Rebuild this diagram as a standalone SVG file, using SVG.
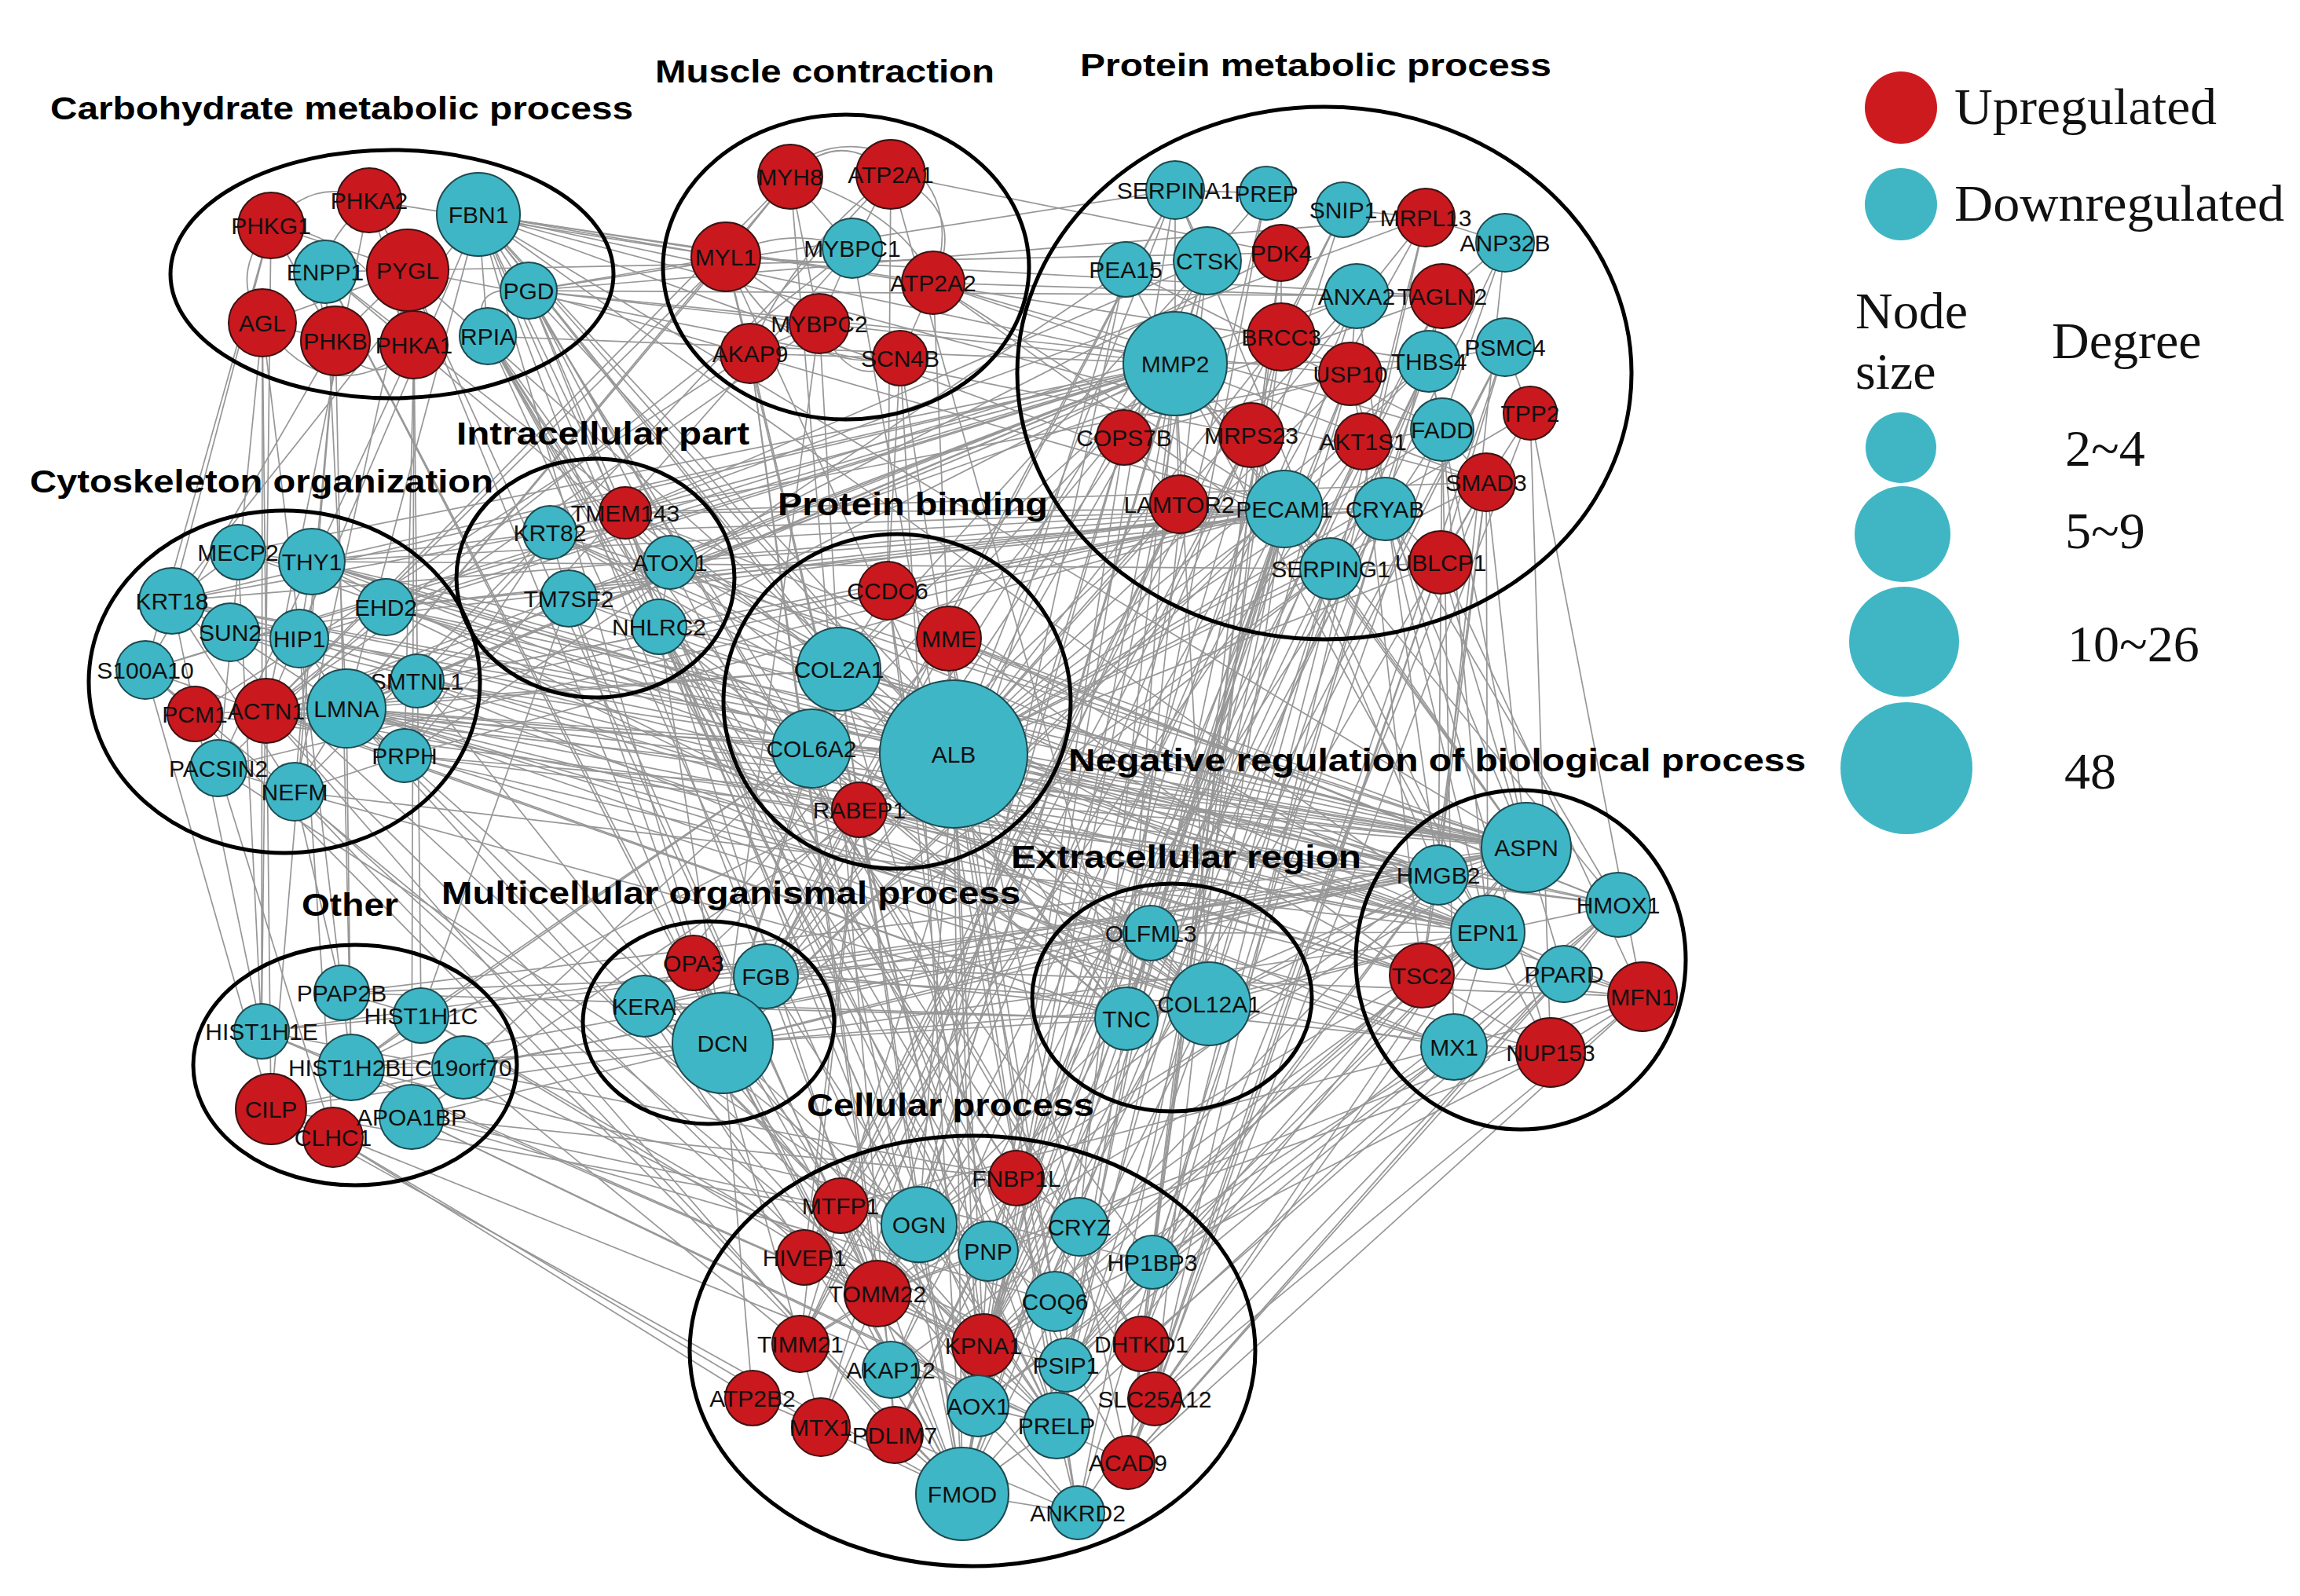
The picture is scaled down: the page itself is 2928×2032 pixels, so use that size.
<svg xmlns="http://www.w3.org/2000/svg" width="2928" height="2032" viewBox="0 0 2928 2032">
<style>
.grp{fill:none;stroke:#000;stroke-width:5}
.ttl{font-family:"Liberation Sans",Arial,sans-serif;font-weight:bold;font-size:41px;fill:#000}
#edges path{fill:none;stroke:#979797;stroke-width:1.7}
.up{fill:#c9181e;stroke:#3a1212;stroke-width:2}
.dn{fill:#3fb6c5;stroke:#1d4a50;stroke-width:2}
.nodes text{font-family:"Liberation Sans",Arial,sans-serif;font-size:30px;fill:#111;text-anchor:middle}
.leg{font-family:"Liberation Serif","Times New Roman",serif;font-size:66px;fill:#111}
.lu{fill:#cc1a1f}
.ld{fill:#40b6c4}
</style>
<rect width="2928" height="2032" fill="#fff"/>
<g id="edges">
<path d="M1214 960L609 273"/><path d="M1214 960L519 344"/><path d="M1214 960L673 370"/><path d="M1214 960L924 327"/><path d="M1214 960L1188 360"/><path d="M1214 960L1496 463"/><path d="M1214 960L1496 242"/><path d="M1214 960L1537 332"/><path d="M1214 960L1635 648"/><path d="M1214 960L1694 724"/><path d="M1214 960L1763 648"/><path d="M1214 960L1631 429"/><path d="M1214 960L1719 476"/><path d="M1214 960L1836 547"/><path d="M1214 960L1892 614"/><path d="M1214 960L1501 642"/><path d="M1214 960L1819 460"/><path d="M1214 960L1727 377"/><path d="M1214 960L1948 526"/><path d="M1214 960L700 678"/><path d="M1214 960L796 653"/><path d="M1214 960L397 715"/><path d="M1214 960L441 902"/><path d="M1214 960L219 765"/><path d="M1214 960L339 905"/><path d="M1214 960L491 773"/><path d="M1214 960L1068 852"/><path d="M1214 960L1033 953"/><path d="M1214 960L1208 813"/><path d="M1214 960L1094 1031"/><path d="M1214 960L1539 1278"/><path d="M1214 960L1434 1297"/><path d="M1214 960L1943 1079"/><path d="M1214 960L1831 1114"/><path d="M1214 960L1894 1187"/><path d="M1214 960L2060 1152"/><path d="M1214 960L2091 1269"/><path d="M1214 960L524 1422"/><path d="M1214 960L447 1359"/><path d="M1214 960L920 1328"/><path d="M1214 960L975 1243"/><path d="M1214 960L1170 1559"/><path d="M1214 960L1225 1902"/><path d="M1214 960L1345 1815"/><path d="M1214 960L1245 1790"/><path d="M1214 960L1252 1713"/><path d="M1214 960L1343 1657"/><path d="M1214 960L1834 716"/>
<path d="M1496 463L609 273"/><path d="M1496 463L673 370"/><path d="M1496 463L1068 852"/><path d="M1496 463L1033 953"/><path d="M1496 463L1434 1297"/><path d="M1496 463L1539 1278"/><path d="M1496 463L920 1328"/><path d="M1496 463L1225 1902"/><path d="M1496 463L1170 1559"/><path d="M1496 463L1943 1079"/><path d="M1496 463L1635 648"/><path d="M1496 463L1537 332"/><path d="M1496 463L1496 242"/><path d="M1496 463L1433 343"/><path d="M1496 463L1819 460"/><path d="M1496 463L441 902"/><path d="M1496 463L397 715"/><path d="M1496 463L219 765"/><path d="M1496 463L1894 1187"/><path d="M1496 463L2060 1152"/><path d="M1496 463L1431 557"/><path d="M1496 463L1593 554"/><path d="M1496 463L1501 642"/><path d="M1496 463L1892 614"/><path d="M1496 463L1345 1815"/><path d="M1496 463L820 1281"/>
<path d="M1635 648L609 273"/><path d="M1635 648L1539 1278"/><path d="M1635 648L1434 1297"/><path d="M1635 648L920 1328"/><path d="M1635 648L1894 1187"/><path d="M1635 648L1943 1079"/><path d="M1635 648L1763 648"/><path d="M1635 648L1694 724"/><path d="M1635 648L1735 562"/><path d="M1635 648L1465 1188"/><path d="M1635 648L1225 1902"/><path d="M1635 648L441 902"/><path d="M1635 648L339 905"/><path d="M1635 648L1252 1713"/><path d="M1635 648L1343 1657"/><path d="M1635 648L1831 1114"/>
<path d="M920 1328L1225 1902"/><path d="M920 1328L1170 1559"/><path d="M920 1328L1345 1815"/><path d="M920 1328L820 1281"/><path d="M920 1328L975 1243"/><path d="M920 1328L883 1226"/><path d="M920 1328L1068 852"/><path d="M920 1328L1033 953"/><path d="M920 1328L1539 1278"/><path d="M920 1328L1434 1297"/><path d="M920 1328L1943 1079"/><path d="M920 1328L609 273"/><path d="M920 1328L524 1422"/><path d="M920 1328L447 1359"/><path d="M920 1328L345 1412"/><path d="M920 1328L441 902"/><path d="M920 1328L1134 1744"/><path d="M920 1328L958 1780"/>
<path d="M1225 1902L1170 1559"/><path d="M1225 1902L1345 1815"/><path d="M1225 1902L820 1281"/><path d="M1225 1902L1943 1079"/><path d="M1225 1902L1068 852"/><path d="M1225 1902L1539 1278"/><path d="M1225 1902L1434 1297"/><path d="M1225 1902L345 1412"/><path d="M1225 1902L1372 1926"/><path d="M1225 1902L1245 1790"/><path d="M1225 1902L1139 1827"/><path d="M1225 1902L1045 1817"/>
<path d="M1170 1559L1943 1079"/><path d="M1170 1559L1345 1815"/><path d="M1170 1559L820 1281"/><path d="M1170 1559L1539 1278"/><path d="M1170 1559L609 273"/><path d="M1170 1559L1117 1647"/><path d="M1170 1559L1258 1593"/><path d="M1170 1559L1070 1535"/>
<path d="M1068 852L1033 953"/><path d="M1068 852L1539 1278"/><path d="M1068 852L609 273"/><path d="M1068 852L1943 1079"/><path d="M1068 852L441 902"/><path d="M1068 852L700 678"/><path d="M1068 852L339 905"/><path d="M1068 852L1130 752"/><path d="M1068 852L1831 1114"/>
<path d="M1033 953L1539 1278"/><path d="M1033 953L1434 1297"/><path d="M1033 953L609 273"/><path d="M1033 953L397 715"/><path d="M1033 953L441 902"/><path d="M1033 953L536 1293"/><path d="M1033 953L590 1359"/>
<path d="M1539 1278L1434 1297"/><path d="M1539 1278L1465 1188"/><path d="M1539 1278L1943 1079"/><path d="M1539 1278L609 273"/><path d="M1539 1278L1894 1187"/>
<path d="M1943 1079L1894 1187"/><path d="M1943 1079L1831 1114"/><path d="M1943 1079L1434 1297"/><path d="M1943 1079L1345 1815"/><path d="M1943 1079L609 273"/><path d="M1943 1079L1694 724"/><path d="M1943 1079L1819 460"/>
<path d="M1894 1187L1831 1114"/><path d="M1894 1187L1810 1242"/><path d="M1894 1187L1851 1333"/><path d="M1894 1187L1974 1340"/><path d="M1894 1187L1991 1240"/><path d="M1894 1187L2060 1152"/><path d="M1894 1187L2091 1269"/><path d="M1894 1187L441 902"/><path d="M1894 1187L339 905"/><path d="M1894 1187L1134 1744"/><path d="M1894 1187L1467 1607"/><path d="M1894 1187L1470 1781"/><path d="M1894 1187L1019 1711"/>
<path d="M2091 1269L1810 1242"/><path d="M2091 1269L1974 1340"/><path d="M2091 1269L1991 1240"/><path d="M2091 1269L1117 1647"/><path d="M2091 1269L1070 1535"/><path d="M1974 1340L1252 1713"/><path d="M1974 1340L1810 1242"/><path d="M1851 1333L2060 1152"/><path d="M1851 1333L1357 1738"/><path d="M1810 1242L1735 562"/><path d="M1810 1242L1831 1114"/><path d="M2060 1152L1991 1240"/><path d="M2060 1152L1436 1862"/><path d="M1991 1240L1453 1711"/><path d="M1831 1114L536 1293"/><path d="M1831 1114L333 1313"/><path d="M1831 1114L1467 1607"/><path d="M1810 1242L853 716"/>
<path d="M345 287L519 344"/><path d="M345 287L427 434"/><path d="M470 255L519 344"/><path d="M470 255L527 439"/><path d="M519 344L427 434"/><path d="M519 344L527 439"/><path d="M519 344L334 411"/><path d="M334 411L427 434"/><path d="M414 346L519 344"/><path d="M609 273L621 428"/>
<path d="M345 287Q400 222 470 255"/><path d="M470 255Q372 340 427 434"/><path d="M334 411Q420 530 527 439"/><path d="M427 434Q480 505 527 439"/><path d="M345 287Q290 350 334 411"/><path d="M673 370Q590 360 621 428"/><path d="M345 287Q470 300 527 439"/>
<path d="M609 273L1819 460"/><path d="M609 273L1892 614"/><path d="M609 273L441 902"/><path d="M609 273L339 905"/><path d="M609 273L219 765"/><path d="M609 273L924 327"/><path d="M609 273L1188 360"/><path d="M519 344L1631 322"/><path d="M519 344L1593 554"/><path d="M334 411L333 1313"/><path d="M334 411L345 1412"/><path d="M427 434L185 853"/><path d="M527 439L524 1422"/><path d="M527 439L278 978"/><path d="M427 434L447 1359"/><path d="M673 370L1719 476"/><path d="M673 370L1836 377"/><path d="M673 370L1245 1790"/><path d="M673 370L1453 1711"/><path d="M621 428L1343 1657"/><path d="M621 428L1258 1593"/><path d="M621 428L1436 1862"/><path d="M621 428L1470 1781"/><path d="M414 346L920 1328"/><path d="M414 346L853 716"/><path d="M345 287L219 765"/><path d="M673 370L1815 277"/><path d="M673 370L1496 242"/>
<path d="M1006 225L924 327"/><path d="M1006 225L1085 316"/><path d="M1006 225L1043 412"/><path d="M1134 222L1085 316"/><path d="M924 327L1043 412"/><path d="M924 327L955 450"/><path d="M1085 316L1043 412"/><path d="M1188 360L1146 456"/><path d="M1043 412L955 450"/><path d="M955 450L1146 456"/>
<path d="M1006 225Q1070 160 1134 222"/><path d="M1134 222Q1235 265 1188 360"/><path d="M924 327Q1000 285 1085 316"/><path d="M1006 225Q1150 270 1188 360"/><path d="M1043 412Q1085 505 1146 456"/><path d="M924 327Q1010 480 1146 456"/><path d="M1134 222Q1000 330 955 450"/><path d="M1006 225C1040 150 1250 180 1188 360"/>
<path d="M924 327L339 905"/><path d="M924 327L441 902"/><path d="M1006 225L339 905"/><path d="M1134 222L1631 322"/><path d="M1188 360L1727 377"/><path d="M1146 456L1372 1926"/><path d="M1085 316L1372 1926"/><path d="M955 450L248 909"/><path d="M955 450L1134 1744"/><path d="M1043 412L339 905"/><path d="M1134 222L531 867"/><path d="M1146 456L1130 752"/><path d="M924 327L1836 377"/><path d="M1188 360L1496 463"/><path d="M924 327L673 370"/>
<path d="M1496 242L1612 246"/><path d="M1496 242L1537 332"/><path d="M1496 242L1694 724"/><path d="M1612 246L1537 332"/><path d="M1710 267L1815 277"/><path d="M1815 277L1916 309"/><path d="M1815 277L1593 554"/><path d="M1537 332L1433 343"/><path d="M1631 322L1631 429"/><path d="M1727 377L1836 377"/><path d="M1727 377L1719 476"/><path d="M1836 377L1819 460"/><path d="M1631 429L1719 476"/><path d="M1631 429L1710 267"/><path d="M1719 476L1735 562"/><path d="M1819 460L1916 442"/><path d="M1916 442L1948 526"/><path d="M1916 442L1834 716"/><path d="M1431 557L1501 642"/><path d="M1431 557L1719 476"/><path d="M1593 554L1635 648"/><path d="M1735 562L1836 547"/><path d="M1836 547L1892 614"/><path d="M1892 614L1834 716"/><path d="M1892 614L1948 526"/><path d="M1763 648L1834 716"/><path d="M1763 648L1694 724"/><path d="M1501 642L1635 648"/><path d="M1916 309L1836 377"/><path d="M1694 724L1834 716"/><path d="M1819 460L1836 547"/><path d="M1433 343L1836 547"/><path d="M1836 377L1763 648"/>
<path d="M1537 332L1434 1297"/><path d="M1537 332L1068 852"/><path d="M1496 242L975 1243"/><path d="M1694 724L975 1243"/><path d="M1763 648L2060 1152"/><path d="M1763 648L1372 1926"/><path d="M1763 648L1453 1711"/><path d="M1892 614L1810 1242"/><path d="M1892 614L1831 1114"/><path d="M1836 547L1851 1333"/><path d="M1948 526L1974 1340"/><path d="M1834 716L2091 1269"/><path d="M1819 460L1539 1278"/><path d="M1819 460L1465 1188"/><path d="M1727 377L441 902"/><path d="M1727 377L185 853"/><path d="M1836 377L339 905"/><path d="M1916 442L1252 1713"/><path d="M1719 476L1294 1500"/><path d="M1631 429L1357 1738"/><path d="M1593 554L1117 1647"/><path d="M1593 554L1019 1711"/><path d="M1735 562L1070 1535"/><path d="M1501 642L1024 1601"/><path d="M1431 557L1045 1817"/><path d="M1631 322L1436 1862"/><path d="M1433 343L515 962"/><path d="M1815 277L1470 1781"/><path d="M1916 309L1467 1607"/><path d="M1710 267L1024 1601"/><path d="M1612 246L1245 1790"/><path d="M1694 724L1345 1815"/>
<path d="M700 678L796 653"/><path d="M700 678L724 762"/><path d="M853 716L839 798"/><path d="M796 653L853 716"/><path d="M700 678L219 765"/><path d="M700 678L375 1008"/><path d="M700 678L515 962"/><path d="M724 762L441 902"/><path d="M839 798L1539 1278"/><path d="M839 798L920 1328"/><path d="M724 762L536 1293"/><path d="M796 653L1117 1647"/><path d="M853 716L1631 322"/><path d="M700 678L397 715"/><path d="M796 653L1815 277"/><path d="M839 798L1294 1500"/><path d="M724 762L1635 648"/>
<path d="M303 703L397 715"/><path d="M303 703L219 765"/><path d="M397 715L381 813"/><path d="M219 765L293 805"/><path d="M293 805L381 813"/><path d="M381 813L441 902"/><path d="M293 805L441 902"/><path d="M185 853L248 909"/><path d="M248 909L339 905"/><path d="M339 905L441 902"/><path d="M441 902L531 867"/><path d="M441 902L515 962"/><path d="M278 978L375 1008"/><path d="M375 1008L441 902"/><path d="M515 962L375 1008"/><path d="M491 773L278 978"/><path d="M219 765L375 1008"/><path d="M397 715L491 773"/>
<path d="M397 715L1539 1278"/><path d="M397 715L1943 1079"/><path d="M441 902L447 1359"/><path d="M441 902L1810 1242"/><path d="M441 902L1252 1713"/><path d="M441 902L1117 1647"/><path d="M339 905L1139 1827"/><path d="M339 905L1372 1926"/><path d="M339 905L531 867"/><path d="M219 765L333 1313"/><path d="M531 867L1372 1926"/><path d="M491 773L1635 648"/><path d="M303 703L1831 1114"/><path d="M303 703L333 1313"/><path d="M375 1008L435 1264"/><path d="M278 978L424 1448"/><path d="M381 813L424 1448"/><path d="M185 853L345 1412"/>
<path d="M1130 752L1810 1242"/><path d="M1094 1031L1894 1187"/><path d="M1094 1031L1033 953"/><path d="M1208 813L1343 1657"/><path d="M1130 752L1258 1593"/><path d="M1094 1031L1024 1601"/><path d="M1208 813L1436 1862"/>
<path d="M1465 1188L1434 1297"/><path d="M1465 1188L1943 1079"/><path d="M1465 1188L920 1328"/><path d="M1434 1297L1345 1815"/><path d="M1539 1278L1345 1815"/><path d="M1465 1188L975 1243"/>
<path d="M435 1264L536 1293"/><path d="M333 1313L447 1359"/><path d="M536 1293L447 1359"/><path d="M333 1313L536 1293"/><path d="M447 1359L590 1359"/><path d="M345 1412L1170 1559"/><path d="M345 1412L1345 1815"/><path d="M590 1359L1019 1711"/><path d="M447 1359L1467 1607"/><path d="M435 1264L975 1243"/><path d="M536 1293L1252 1713"/><path d="M524 1422L1436 1862"/><path d="M424 1448L958 1780"/><path d="M333 1313L1294 1500"/>
<path d="M883 1226L1070 1535"/><path d="M883 1226L2091 1269"/><path d="M820 1281L1345 1815"/><path d="M975 1243L1345 1815"/><path d="M975 1243L1208 813"/><path d="M883 1226L1019 1711"/><path d="M820 1281L975 1243"/>
<path d="M1070 1535L1117 1647"/><path d="M1117 1647L1019 1711"/><path d="M1117 1647L1045 1817"/><path d="M1019 1711L1045 1817"/><path d="M1024 1601L1252 1713"/><path d="M1252 1713L1357 1738"/><path d="M1258 1593L1343 1657"/><path d="M1245 1790L1258 1593"/><path d="M1345 1815L1372 1926"/><path d="M1436 1862L1453 1711"/><path d="M1453 1711L1470 1781"/><path d="M1470 1781L1436 1862"/><path d="M1343 1657L1357 1738"/><path d="M1134 1744L1139 1827"/><path d="M1139 1827L1372 1926"/><path d="M1374 1562L1245 1790"/><path d="M1467 1607L1357 1738"/><path d="M1294 1500L1374 1562"/><path d="M1045 1817L958 1780"/><path d="M1245 1790L1345 1815"/>
<path d="M397 715L1635 648"/><path d="M397 715L1894 1187"/><path d="M397 715L1831 1114"/><path d="M397 715L1694 724"/><path d="M219 765L1635 648"/><path d="M219 765L1810 1242"/><path d="M219 765L1943 1079"/><path d="M219 765L1894 1187"/><path d="M219 765L1252 1713"/><path d="M293 805L1635 648"/><path d="M293 805L1851 1333"/><path d="M293 805L1894 1187"/><path d="M381 813L1496 463"/><path d="M381 813L2060 1152"/><path d="M381 813L1943 1079"/><path d="M491 773L1943 1079"/><path d="M491 773L1496 463"/><path d="M491 773L1894 1187"/><path d="M491 773L1763 648"/><path d="M491 773L1539 1278"/><path d="M531 867L1635 648"/><path d="M531 867L1496 463"/><path d="M531 867L1539 1278"/><path d="M531 867L1943 1079"/><path d="M531 867L1810 1242"/><path d="M441 902L1851 1333"/><path d="M441 902L1974 1340"/><path d="M441 902L1943 1079"/><path d="M441 902L1539 1278"/><path d="M441 902L1831 1114"/><path d="M339 905L1943 1079"/><path d="M339 905L1539 1278"/><path d="M339 905L1434 1297"/><path d="M339 905L1496 463"/><path d="M515 962L1635 648"/><path d="M515 962L2060 1152"/><path d="M515 962L1943 1079"/><path d="M515 962L1465 1188"/><path d="M375 1008L1434 1297"/><path d="M375 1008L1894 1187"/><path d="M375 1008L1245 1790"/><path d="M375 1008L1225 1902"/><path d="M278 978L1635 648"/><path d="M278 978L1170 1559"/><path d="M248 909L2060 1152"/><path d="M248 909L1225 1902"/><path d="M185 853L1496 463"/><path d="M185 853L1434 1297"/><path d="M185 853L1345 1815"/><path d="M303 703L1496 463"/><path d="M303 703L1810 1242"/>
<path d="M700 678L1496 463"/><path d="M700 678L1635 648"/><path d="M700 678L1943 1079"/><path d="M700 678L1894 1187"/><path d="M796 653L1635 648"/><path d="M796 653L1537 332"/><path d="M796 653L1819 460"/><path d="M796 653L2060 1152"/><path d="M853 716L1496 463"/><path d="M853 716L1943 1079"/><path d="M853 716L1763 648"/><path d="M853 716L1539 1278"/><path d="M853 716L1831 1114"/><path d="M724 762L1496 463"/><path d="M724 762L1943 1079"/><path d="M724 762L1894 1187"/><path d="M724 762L920 1328"/><path d="M724 762L1225 1902"/><path d="M839 798L1496 463"/><path d="M839 798L1635 648"/><path d="M839 798L1943 1079"/><path d="M839 798L1434 1297"/><path d="M839 798L1345 1815"/><path d="M839 798L1170 1559"/><path d="M796 653L1892 614"/>
<path d="M334 411L278 978"/><path d="M334 411L447 1359"/><path d="M427 434L375 1008"/><path d="M427 434L345 1412"/><path d="M527 439L536 1293"/><path d="M527 439L515 962"/><path d="M345 287L185 853"/><path d="M345 287L333 1313"/><path d="M519 344L375 1008"/><path d="M519 344L1117 1647"/><path d="M519 344L920 1328"/><path d="M609 273L1894 1187"/><path d="M609 273L1434 1297"/><path d="M609 273L1225 1902"/><path d="M609 273L1345 1815"/><path d="M673 370L1635 648"/><path d="M673 370L1343 1657"/><path d="M673 370L1252 1713"/><path d="M673 370L1374 1562"/><path d="M621 428L1245 1790"/><path d="M621 428L1467 1607"/><path d="M621 428L1453 1711"/><path d="M621 428L1496 463"/><path d="M414 346L441 902"/><path d="M414 346L1068 852"/><path d="M414 346L1225 1902"/><path d="M470 255L339 905"/><path d="M470 255L924 327"/>
<path d="M1006 225L441 902"/><path d="M1134 222L1434 1297"/><path d="M1188 360L1635 648"/><path d="M1188 360L1694 724"/><path d="M1085 316L339 905"/><path d="M1085 316L515 962"/><path d="M1043 412L1068 852"/><path d="M955 450L1117 1647"/><path d="M955 450L1252 1713"/><path d="M1146 456L1225 1902"/><path d="M924 327L1252 1713"/><path d="M1006 225L1139 1827"/><path d="M1134 222L1130 752"/><path d="M1188 360L1836 547"/><path d="M1043 412L920 1328"/>
<path d="M1496 242L1225 1902"/><path d="M1496 242L920 1328"/><path d="M1537 332L920 1328"/><path d="M1537 332L1225 1902"/><path d="M1537 332L1170 1559"/><path d="M1433 343L1019 1711"/><path d="M1433 343L1170 1559"/><path d="M1431 557L1252 1713"/><path d="M1431 557L1117 1647"/><path d="M1501 642L1070 1535"/><path d="M1501 642L1019 1711"/><path d="M1501 642L883 1226"/><path d="M1593 554L1070 1535"/><path d="M1593 554L1453 1711"/><path d="M1631 429L1252 1713"/><path d="M1631 429L1467 1607"/><path d="M1719 476L1252 1713"/><path d="M1719 476L1357 1738"/><path d="M1719 476L1974 1340"/><path d="M1735 562L1252 1713"/><path d="M1735 562L1139 1827"/><path d="M1836 547L1831 1114"/><path d="M1836 547L1894 1187"/><path d="M1836 547L1117 1647"/><path d="M1892 614L1943 1079"/><path d="M1892 614L1894 1187"/><path d="M1892 614L1252 1713"/><path d="M1892 614L1453 1711"/><path d="M1948 526L1436 1862"/><path d="M1948 526L2091 1269"/><path d="M1834 716L1991 1240"/><path d="M1834 716L1470 1781"/><path d="M1834 716L1436 1862"/><path d="M1763 648L1943 1079"/><path d="M1763 648L1894 1187"/><path d="M1763 648L1139 1827"/><path d="M1694 724L920 1328"/><path d="M1694 724L1539 1278"/><path d="M1635 648L1372 1926"/><path d="M1635 648L1170 1559"/><path d="M1635 648L1345 1815"/><path d="M1819 460L1434 1297"/><path d="M1819 460L920 1328"/><path d="M1819 460L1225 1902"/><path d="M1727 377L1434 1297"/><path d="M1727 377L1831 1114"/><path d="M1727 377L1134 1744"/><path d="M1836 377L1134 1744"/><path d="M1836 377L1139 1827"/><path d="M1916 442L1436 1862"/><path d="M1916 442L1245 1790"/><path d="M1815 277L1019 1711"/><path d="M1815 277L1453 1711"/><path d="M1916 309L1831 1114"/><path d="M1916 309L1252 1713"/><path d="M1631 322L1453 1711"/><path d="M1631 322L1470 1781"/><path d="M1710 267L1252 1713"/><path d="M1612 246L1343 1657"/>
<path d="M1130 752L1252 1713"/><path d="M1130 752L1894 1187"/><path d="M1068 852L1345 1815"/><path d="M1068 852L1434 1297"/><path d="M1068 852L1170 1559"/><path d="M1033 953L1225 1902"/><path d="M1033 953L1345 1815"/><path d="M1033 953L1943 1079"/><path d="M1033 953L447 1359"/><path d="M1208 813L2060 1152"/><path d="M1208 813L1943 1079"/><path d="M1094 1031L1019 1711"/><path d="M1094 1031L1831 1114"/><path d="M1094 1031L1851 1333"/>
<path d="M447 1359L1252 1713"/><path d="M447 1359L1831 1114"/><path d="M333 1313L1252 1713"/><path d="M590 1359L1831 1114"/><path d="M590 1359L1357 1738"/><path d="M524 1422L1170 1559"/><path d="M524 1422L1345 1815"/><path d="M524 1422L1343 1657"/><path d="M345 1412L1943 1079"/><path d="M424 1448L1045 1817"/><path d="M435 1264L1943 1079"/><path d="M435 1264L1434 1297"/><path d="M536 1293L1117 1647"/><path d="M524 1422L1294 1500"/>
<path d="M883 1226L1117 1647"/><path d="M883 1226L1974 1340"/><path d="M820 1281L1943 1079"/><path d="M820 1281L1434 1297"/><path d="M975 1243L1539 1278"/><path d="M975 1243L1943 1079"/><path d="M920 1328L1894 1187"/>
<path d="M1465 1188L1894 1187"/><path d="M1434 1297L1894 1187"/><path d="M1539 1278L1831 1114"/><path d="M1539 1278L1851 1333"/><path d="M1434 1297L1170 1559"/><path d="M1465 1188L1345 1815"/>
<path d="M1943 1079L1372 1926"/><path d="M1894 1187L1252 1713"/><path d="M1894 1187L1357 1738"/><path d="M1831 1114L1357 1738"/><path d="M1831 1114L1252 1713"/><path d="M1831 1114L1117 1647"/><path d="M1810 1242L1252 1713"/><path d="M1810 1242L1343 1657"/><path d="M1851 1333L1252 1713"/><path d="M1851 1333L1245 1790"/><path d="M1974 1340L1117 1647"/><path d="M2060 1152L1345 1815"/><path d="M2060 1152L1245 1790"/><path d="M1991 1240L1436 1862"/><path d="M1991 1240L1470 1781"/><path d="M2091 1269L1436 1862"/><path d="M2091 1269L1470 1781"/>
</g>
<g id="groups">
<g id="g-carb"><ellipse class="grp" cx="499" cy="349" rx="282" ry="158"/><text class="ttl" x="64" y="152" textLength="742" lengthAdjust="spacingAndGlyphs">Carbohydrate metabolic process</text></g>
<g id="g-muscle"><ellipse class="grp" cx="1077" cy="340" rx="233" ry="194"/><text class="ttl" x="834" y="105" textLength="432" lengthAdjust="spacingAndGlyphs">Muscle contraction</text></g>
<g id="g-protmet"><ellipse class="grp" cx="1686" cy="475" rx="391" ry="339"/><text class="ttl" x="1375" y="97" textLength="600" lengthAdjust="spacingAndGlyphs">Protein metabolic process</text></g>
<g id="g-intra"><ellipse class="grp" cx="758" cy="736" rx="177" ry="152"/><text class="ttl" x="581" y="566" textLength="373" lengthAdjust="spacingAndGlyphs">Intracellular part</text></g>
<g id="g-cyto"><ellipse class="grp" cx="362" cy="868" rx="249" ry="218"/><text class="ttl" x="38" y="627" textLength="590" lengthAdjust="spacingAndGlyphs">Cytoskeleton organization</text></g>
<g id="g-binding"><ellipse class="grp" cx="1142" cy="893" rx="221" ry="213"/><text class="ttl" x="990" y="656" textLength="344" lengthAdjust="spacingAndGlyphs">Protein binding</text></g>
<g id="g-extra"><ellipse class="grp" cx="1492" cy="1270" rx="178" ry="145"/><text class="ttl" x="1287" y="1105" textLength="446" lengthAdjust="spacingAndGlyphs">Extracellular region</text></g>
<g id="g-neg"><ellipse class="grp" cx="1936" cy="1222" rx="210" ry="216"/><text class="ttl" x="1360" y="982" textLength="939" lengthAdjust="spacingAndGlyphs">Negative regulation of biological process</text></g>
<g id="g-other"><ellipse class="grp" cx="452" cy="1356" rx="206" ry="153"/><text class="ttl" x="384" y="1166" textLength="123" lengthAdjust="spacingAndGlyphs">Other</text></g>
<g id="g-multi"><ellipse class="grp" cx="902" cy="1302" rx="160" ry="129"/><text class="ttl" x="562" y="1151" textLength="737" lengthAdjust="spacingAndGlyphs">Multicellular organismal process</text></g>
<g id="g-cell"><ellipse class="grp" cx="1238" cy="1720" rx="360" ry="274"/><text class="ttl" x="1027" y="1421" textLength="366" lengthAdjust="spacingAndGlyphs">Cellular process</text></g>
</g>
<g class="nodes">
<g id="n-PHKG1"><circle class="up" cx="345" cy="287" r="42"/><text x="345" y="298">PHKG1</text></g>
<g id="n-PHKA2"><circle class="up" cx="470" cy="255" r="41"/><text x="470" y="266">PHKA2</text></g>
<g id="n-FBN1"><circle class="dn" cx="609" cy="273" r="53"/><text x="609" y="284">FBN1</text></g>
<g id="n-ENPP1"><circle class="dn" cx="414" cy="346" r="40"/><text x="414" y="357">ENPP1</text></g>
<g id="n-PYGL"><circle class="up" cx="519" cy="344" r="52"/><text x="519" y="355">PYGL</text></g>
<g id="n-PGD"><circle class="dn" cx="673" cy="370" r="36"/><text x="673" y="381">PGD</text></g>
<g id="n-AGL"><circle class="up" cx="334" cy="411" r="43"/><text x="334" y="422">AGL</text></g>
<g id="n-PHKB"><circle class="up" cx="427" cy="434" r="44"/><text x="427" y="445">PHKB</text></g>
<g id="n-PHKA1"><circle class="up" cx="527" cy="439" r="43"/><text x="527" y="450">PHKA1</text></g>
<g id="n-RPIA"><circle class="dn" cx="621" cy="428" r="36"/><text x="621" y="439">RPIA</text></g>
<g id="n-MYH8"><circle class="up" cx="1006" cy="225" r="41"/><text x="1006" y="236">MYH8</text></g>
<g id="n-ATP2A1"><circle class="up" cx="1134" cy="222" r="44"/><text x="1134" y="233">ATP2A1</text></g>
<g id="n-MYL1"><circle class="up" cx="924" cy="327" r="44"/><text x="924" y="338">MYL1</text></g>
<g id="n-MYBPC1"><circle class="dn" cx="1085" cy="316" r="38"/><text x="1085" y="327">MYBPC1</text></g>
<g id="n-ATP2A2"><circle class="up" cx="1188" cy="360" r="40"/><text x="1188" y="371">ATP2A2</text></g>
<g id="n-MYBPC2"><circle class="up" cx="1043" cy="412" r="38"/><text x="1043" y="423">MYBPC2</text></g>
<g id="n-AKAP9"><circle class="up" cx="955" cy="450" r="38"/><text x="955" y="461">AKAP9</text></g>
<g id="n-SCN4B"><circle class="up" cx="1146" cy="456" r="35"/><text x="1146" y="467">SCN4B</text></g>
<g id="n-SERPINA1"><circle class="dn" cx="1496" cy="242" r="37"/><text x="1496" y="253">SERPINA1</text></g>
<g id="n-PREP"><circle class="dn" cx="1612" cy="246" r="34"/><text x="1612" y="257">PREP</text></g>
<g id="n-SNIP1"><circle class="dn" cx="1710" cy="267" r="35"/><text x="1710" y="278">SNIP1</text></g>
<g id="n-MRPL13"><circle class="up" cx="1815" cy="277" r="37"/><text x="1815" y="288">MRPL13</text></g>
<g id="n-ANP32B"><circle class="dn" cx="1916" cy="309" r="37"/><text x="1916" y="320">ANP32B</text></g>
<g id="n-PEA15"><circle class="dn" cx="1433" cy="343" r="35"/><text x="1433" y="354">PEA15</text></g>
<g id="n-CTSK"><circle class="dn" cx="1537" cy="332" r="43"/><text x="1537" y="343">CTSK</text></g>
<g id="n-PDK4"><circle class="up" cx="1631" cy="322" r="36"/><text x="1631" y="333">PDK4</text></g>
<g id="n-ANXA2"><circle class="dn" cx="1727" cy="377" r="41"/><text x="1727" y="388">ANXA2</text></g>
<g id="n-TAGLN2"><circle class="up" cx="1836" cy="377" r="41"/><text x="1836" y="388">TAGLN2</text></g>
<g id="n-MMP2"><circle class="dn" cx="1496" cy="463" r="66"/><text x="1496" y="474">MMP2</text></g>
<g id="n-BRCC3"><circle class="up" cx="1631" cy="429" r="43"/><text x="1631" y="440">BRCC3</text></g>
<g id="n-USP10"><circle class="up" cx="1719" cy="476" r="40"/><text x="1719" y="487">USP10</text></g>
<g id="n-THBS4"><circle class="dn" cx="1819" cy="460" r="39"/><text x="1819" y="471">THBS4</text></g>
<g id="n-PSMC4"><circle class="dn" cx="1916" cy="442" r="37"/><text x="1916" y="453">PSMC4</text></g>
<g id="n-TPP2"><circle class="up" cx="1948" cy="526" r="34"/><text x="1948" y="537">TPP2</text></g>
<g id="n-COPS7B"><circle class="up" cx="1431" cy="557" r="35"/><text x="1431" y="568">COPS7B</text></g>
<g id="n-MRPS23"><circle class="up" cx="1593" cy="554" r="41"/><text x="1593" y="565">MRPS23</text></g>
<g id="n-AKT1S1"><circle class="up" cx="1735" cy="562" r="36"/><text x="1735" y="573">AKT1S1</text></g>
<g id="n-FADD"><circle class="dn" cx="1836" cy="547" r="40"/><text x="1836" y="558">FADD</text></g>
<g id="n-SMAD3"><circle class="up" cx="1892" cy="614" r="37"/><text x="1892" y="625">SMAD3</text></g>
<g id="n-LAMTOR2"><circle class="up" cx="1501" cy="642" r="37"/><text x="1501" y="653">LAMTOR2</text></g>
<g id="n-PECAM1"><circle class="dn" cx="1635" cy="648" r="49"/><text x="1635" y="659">PECAM1</text></g>
<g id="n-CRYAB"><circle class="dn" cx="1763" cy="648" r="40"/><text x="1763" y="659">CRYAB</text></g>
<g id="n-SERPING1"><circle class="dn" cx="1694" cy="724" r="39"/><text x="1694" y="735">SERPING1</text></g>
<g id="n-UBLCP1"><circle class="up" cx="1834" cy="716" r="40"/><text x="1834" y="727">UBLCP1</text></g>
<g id="n-TMEM143"><circle class="up" cx="796" cy="653" r="33"/><text x="796" y="664">TMEM143</text></g>
<g id="n-KRT82"><circle class="dn" cx="700" cy="678" r="34"/><text x="700" y="689">KRT82</text></g>
<g id="n-ATOX1"><circle class="dn" cx="853" cy="716" r="34"/><text x="853" y="727">ATOX1</text></g>
<g id="n-TM7SF2"><circle class="dn" cx="724" cy="762" r="36"/><text x="724" y="773">TM7SF2</text></g>
<g id="n-NHLRC2"><circle class="dn" cx="839" cy="798" r="35"/><text x="839" y="809">NHLRC2</text></g>
<g id="n-MECP2"><circle class="dn" cx="303" cy="703" r="35"/><text x="303" y="714">MECP2</text></g>
<g id="n-THY1"><circle class="dn" cx="397" cy="715" r="42"/><text x="397" y="726">THY1</text></g>
<g id="n-KRT18"><circle class="dn" cx="219" cy="765" r="42"/><text x="219" y="776">KRT18</text></g>
<g id="n-EHD2"><circle class="dn" cx="491" cy="773" r="36"/><text x="491" y="784">EHD2</text></g>
<g id="n-SUN2"><circle class="dn" cx="293" cy="805" r="37"/><text x="293" y="816">SUN2</text></g>
<g id="n-HIP1"><circle class="dn" cx="381" cy="813" r="37"/><text x="381" y="824">HIP1</text></g>
<g id="n-S100A10"><circle class="dn" cx="185" cy="853" r="37"/><text x="185" y="864">S100A10</text></g>
<g id="n-SMTNL1"><circle class="dn" cx="531" cy="867" r="34"/><text x="531" y="878">SMTNL1</text></g>
<g id="n-PCM1"><circle class="up" cx="248" cy="909" r="35"/><text x="248" y="920">PCM1</text></g>
<g id="n-ACTN1"><circle class="up" cx="339" cy="905" r="41"/><text x="339" y="916">ACTN1</text></g>
<g id="n-LMNA"><circle class="dn" cx="441" cy="902" r="50"/><text x="441" y="913">LMNA</text></g>
<g id="n-PRPH"><circle class="dn" cx="515" cy="962" r="34"/><text x="515" y="973">PRPH</text></g>
<g id="n-PACSIN2"><circle class="dn" cx="278" cy="978" r="36"/><text x="278" y="989">PACSIN2</text></g>
<g id="n-NEFM"><circle class="dn" cx="375" cy="1008" r="37"/><text x="375" y="1019">NEFM</text></g>
<g id="n-CCDC6"><circle class="up" cx="1130" cy="752" r="37"/><text x="1130" y="763">CCDC6</text></g>
<g id="n-MME"><circle class="up" cx="1208" cy="813" r="41"/><text x="1208" y="824">MME</text></g>
<g id="n-COL2A1"><circle class="dn" cx="1068" cy="852" r="53"/><text x="1068" y="863">COL2A1</text></g>
<g id="n-COL6A2"><circle class="dn" cx="1033" cy="953" r="50"/><text x="1033" y="964">COL6A2</text></g>
<g id="n-ALB"><circle class="dn" cx="1214" cy="960" r="94"/><text x="1214" y="971">ALB</text></g>
<g id="n-RABEP1"><circle class="up" cx="1094" cy="1031" r="35"/><text x="1094" y="1042">RABEP1</text></g>
<g id="n-OLFML3"><circle class="dn" cx="1465" cy="1188" r="35"/><text x="1465" y="1199">OLFML3</text></g>
<g id="n-TNC"><circle class="dn" cx="1434" cy="1297" r="40"/><text x="1434" y="1308">TNC</text></g>
<g id="n-COL12A1"><circle class="dn" cx="1539" cy="1278" r="53"/><text x="1539" y="1289">COL12A1</text></g>
<g id="n-ASPN"><circle class="dn" cx="1943" cy="1079" r="57"/><text x="1943" y="1090">ASPN</text></g>
<g id="n-HMGB2"><circle class="dn" cx="1831" cy="1114" r="38"/><text x="1831" y="1125">HMGB2</text></g>
<g id="n-HMOX1"><circle class="dn" cx="2060" cy="1152" r="41"/><text x="2060" y="1163">HMOX1</text></g>
<g id="n-EPN1"><circle class="dn" cx="1894" cy="1187" r="47"/><text x="1894" y="1198">EPN1</text></g>
<g id="n-TSC2"><circle class="up" cx="1810" cy="1242" r="41"/><text x="1810" y="1253">TSC2</text></g>
<g id="n-PPARD"><circle class="dn" cx="1991" cy="1240" r="36"/><text x="1991" y="1251">PPARD</text></g>
<g id="n-MFN1"><circle class="up" cx="2091" cy="1269" r="44"/><text x="2091" y="1280">MFN1</text></g>
<g id="n-MX1"><circle class="dn" cx="1851" cy="1333" r="42"/><text x="1851" y="1344">MX1</text></g>
<g id="n-NUP153"><circle class="up" cx="1974" cy="1340" r="44"/><text x="1974" y="1351">NUP153</text></g>
<g id="n-PPAP2B"><circle class="dn" cx="435" cy="1264" r="35"/><text x="435" y="1275">PPAP2B</text></g>
<g id="n-HIST1H1E"><circle class="dn" cx="333" cy="1313" r="35"/><text x="333" y="1324">HIST1H1E</text></g>
<g id="n-HIST1H1C"><circle class="dn" cx="536" cy="1293" r="35"/><text x="536" y="1304">HIST1H1C</text></g>
<g id="n-HIST1H2BL"><circle class="dn" cx="447" cy="1359" r="42"/><text x="447" y="1370">HIST1H2BL</text></g>
<g id="n-C19orf70"><circle class="dn" cx="590" cy="1359" r="40"/><text x="590" y="1370">C19orf70</text></g>
<g id="n-CILP"><circle class="up" cx="345" cy="1412" r="45"/><text x="345" y="1423">CILP</text></g>
<g id="n-CLHC1"><circle class="up" cx="424" cy="1448" r="38"/><text x="424" y="1459">CLHC1</text></g>
<g id="n-APOA1BP"><circle class="dn" cx="524" cy="1422" r="41"/><text x="524" y="1433">APOA1BP</text></g>
<g id="n-OPA3"><circle class="up" cx="883" cy="1226" r="35"/><text x="883" y="1237">OPA3</text></g>
<g id="n-FGB"><circle class="dn" cx="975" cy="1243" r="41"/><text x="975" y="1254">FGB</text></g>
<g id="n-KERA"><circle class="dn" cx="820" cy="1281" r="39"/><text x="820" y="1292">KERA</text></g>
<g id="n-DCN"><circle class="dn" cx="920" cy="1328" r="64"/><text x="920" y="1339">DCN</text></g>
<g id="n-FNBP1L"><circle class="up" cx="1294" cy="1500" r="35"/><text x="1294" y="1511">FNBP1L</text></g>
<g id="n-MTFP1"><circle class="up" cx="1070" cy="1535" r="35"/><text x="1070" y="1546">MTFP1</text></g>
<g id="n-OGN"><circle class="dn" cx="1170" cy="1559" r="48"/><text x="1170" y="1570">OGN</text></g>
<g id="n-CRYZ"><circle class="dn" cx="1374" cy="1562" r="37"/><text x="1374" y="1573">CRYZ</text></g>
<g id="n-PNP"><circle class="dn" cx="1258" cy="1593" r="38"/><text x="1258" y="1604">PNP</text></g>
<g id="n-HIVEP1"><circle class="up" cx="1024" cy="1601" r="35"/><text x="1024" y="1612">HIVEP1</text></g>
<g id="n-HP1BP3"><circle class="dn" cx="1467" cy="1607" r="34"/><text x="1467" y="1618">HP1BP3</text></g>
<g id="n-TOMM22"><circle class="up" cx="1117" cy="1647" r="42"/><text x="1117" y="1658">TOMM22</text></g>
<g id="n-COQ6"><circle class="dn" cx="1343" cy="1657" r="38"/><text x="1343" y="1668">COQ6</text></g>
<g id="n-TIMM21"><circle class="up" cx="1019" cy="1711" r="36"/><text x="1019" y="1722">TIMM21</text></g>
<g id="n-KPNA1"><circle class="up" cx="1252" cy="1713" r="40"/><text x="1252" y="1724">KPNA1</text></g>
<g id="n-DHTKD1"><circle class="up" cx="1453" cy="1711" r="35"/><text x="1453" y="1722">DHTKD1</text></g>
<g id="n-AKAP12"><circle class="dn" cx="1134" cy="1744" r="36"/><text x="1134" y="1755">AKAP12</text></g>
<g id="n-PSIP1"><circle class="dn" cx="1357" cy="1738" r="34"/><text x="1357" y="1749">PSIP1</text></g>
<g id="n-ATP2B2"><circle class="up" cx="958" cy="1780" r="35"/><text x="958" y="1791">ATP2B2</text></g>
<g id="n-SLC25A12"><circle class="up" cx="1470" cy="1781" r="34"/><text x="1470" y="1792">SLC25A12</text></g>
<g id="n-AOX1"><circle class="dn" cx="1245" cy="1790" r="39"/><text x="1245" y="1801">AOX1</text></g>
<g id="n-MTX1"><circle class="up" cx="1045" cy="1817" r="37"/><text x="1045" y="1828">MTX1</text></g>
<g id="n-PDLIM7"><circle class="up" cx="1139" cy="1827" r="36"/><text x="1139" y="1838">PDLIM7</text></g>
<g id="n-PRELP"><circle class="dn" cx="1345" cy="1815" r="42"/><text x="1345" y="1826">PRELP</text></g>
<g id="n-ACAD9"><circle class="up" cx="1436" cy="1862" r="34"/><text x="1436" y="1873">ACAD9</text></g>
<g id="n-FMOD"><circle class="dn" cx="1225" cy="1902" r="59"/><text x="1225" y="1913">FMOD</text></g>
<g id="n-ANKRD2"><circle class="dn" cx="1372" cy="1926" r="34"/><text x="1372" y="1937">ANKRD2</text></g>
</g>
<g id="legend">
<circle class="lu" cx="2420" cy="137" r="46"/>
<text class="leg" x="2488" y="158" textLength="334" lengthAdjust="spacingAndGlyphs">Upregulated</text>
<circle class="ld" cx="2420" cy="260" r="46"/>
<text class="leg" x="2488" y="281" textLength="420" lengthAdjust="spacingAndGlyphs">Downregulated</text>
<text class="leg" x="2362" y="418">Node</text>
<text class="leg" x="2362" y="495">size</text>
<text class="leg" x="2612" y="456">Degree</text>
<circle class="ld" cx="2420" cy="570" r="45"/>
<text class="leg" x="2629" y="593">2~4</text>
<circle class="ld" cx="2422" cy="680" r="61"/>
<text class="leg" x="2629" y="698">5~9</text>
<circle class="ld" cx="2424" cy="817" r="70"/>
<text class="leg" x="2632" y="842">10~26</text>
<circle class="ld" cx="2427" cy="978" r="84"/>
<text class="leg" x="2628" y="1004">48</text>
</g>
</svg>
